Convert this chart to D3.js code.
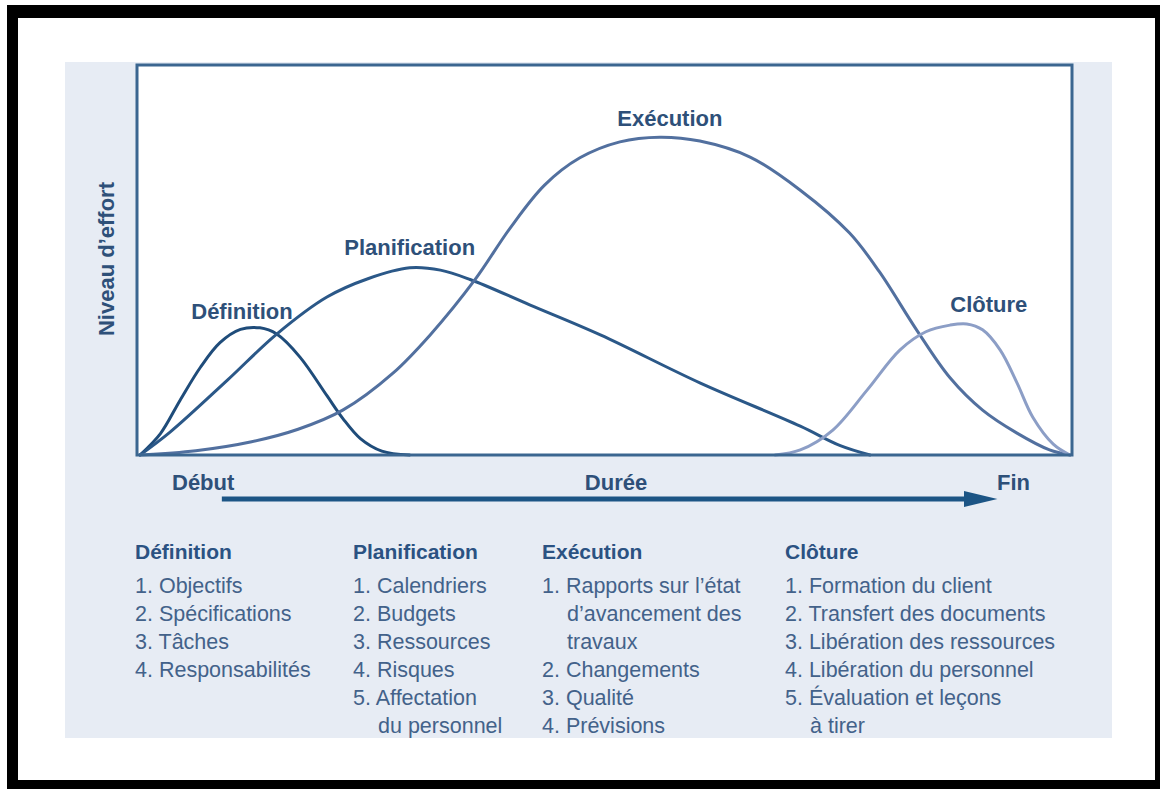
<!DOCTYPE html>
<html>
<head>
<meta charset="utf-8">
<script src="https://cdn.jsdelivr.net/npm/d3@7"></script>
<style>
  body { margin: 0; background: #fff; }
  text { font-family: "Liberation Sans", Arial, sans-serif; }
</style>
</head>
<body>
<div id="chart"></div>
<script>
// phase curves (x = % of duration, y = % of effort)
var phases = ["Définition", "Planification", "Exécution", "Clôture"];

var definition = [[0,0],[2.2,5.5],[4.3,14],[6.5,22.5],[8.6,28.8],[10.8,32.2],[12.9,32.6],[14.7,31],
  [17.2,25.1],[20.1,15.2],[21.8,9.4],[23.7,4.2],[26,1],[29,0]];

var planification = [[0,0],[3.2,5.8],[9.4,19.2],[14.7,31],[20.1,40.5],[24.5,45.2],[29,48],
  [32.3,47.4],[35.5,45],[41.9,38.5],[49.5,30.8],[60.2,18.5],[71,7.4],[75.3,2.4],[78.5,0]];

var execution = [[0,0],[6,1.1],[12,3.4],[17,6.6],[21.8,11.5],[27.2,21],[31.2,30.8],[36,44.9],
  [39.8,58.2],[43.5,69.2],[47.3,76.2],[51.6,80.3],[55.9,81.5],[60.2,80.5],[65.6,76.4],
  [71,67.9],[76.3,56.9],[79.5,47],[83.5,32.1],[87.1,19.8],[90.6,11.5],[94.3,5.6],[97.8,1.3],[100,0]];

var cloture = [[68.3,0],[71,1.3],[74.5,6.4],[78.2,16.7],[81.7,26.9],[84.5,31.6],[87.1,33.3],
  [88.9,33.6],[90.6,32.1],[92.5,26.9],[94.3,18.5],[96,9.7],[98.2,2.8],[100,0]];

var axisLabels = ["Début", "Durée", "Fin"];
var yLabel = "Niveau d’effort";

// task lists under the chart (each item = its lines)
var defItems = [["Objectifs"], ["Spécifications"], ["Tâches"], ["Responsabilités"]];
var planItems = [["Calendriers"], ["Budgets"], ["Ressources"], ["Risques"], ["Affectation", "du personnel"]];
var execItems = [["Rapports sur l’état", "d’avancement des", "travaux"], ["Changements"], ["Qualité"], ["Prévisions"]];
var clotItems = [["Formation du client"], ["Transfert des documents"], ["Libération des ressources"],
  ["Libération du personnel"], ["Évaluation et leçons", "à tirer"]];

var series = [definition, planification, execution, cloture];
var lists = [defItems, planItems, execItems, clotItems];

// styles
var curveColors = ["#1f4c7a", "#2b5888", "#52709f", "#8c9ec6"];
var labelDx = [-18, 0, 10, 22];
var labelDy = [-9, -13, -11, -12];
var colX = [135, 353, 542, 785];

var W = 1160, H = 789;
var svg = d3.select("#chart").append("svg")
    .attr("width", W)
    .attr("height", H);

// frame
svg.append("rect").attr("x", 7).attr("y", 5).attr("width", W - 7).attr("height", H - 5).attr("fill", "#000");
svg.append("rect").attr("x", 18).attr("y", 18).attr("width", 1137).attr("height", 762).attr("fill", "#fff");

// light panel
svg.append("rect").attr("x", 65).attr("y", 62).attr("width", 1047).attr("height", 676).attr("fill", "#e7ecf4");

var box = {left: 137, top: 65, right: 1072, bottom: 455};
svg.append("rect")
    .attr("x", box.left).attr("y", box.top)
    .attr("width", box.right - box.left).attr("height", box.bottom - box.top)
    .attr("fill", "#fff");

var xScale = d3.scaleLinear().domain([0, 100]).range([140, 1070]);
var yScale = d3.scaleLinear().domain([0, 100]).range([455, 65]);

var line = d3.line()
    .x(function(d) { return xScale(d[0]); })
    .y(function(d) { return yScale(d[1]); })
    .curve(d3.curveCatmullRom.alpha(0.5));

svg.selectAll(".phase")
    .data(series)
    .enter()
    .append("path")
    .attr("class", "phase")
    .attr("d", line)
    .attr("fill", "none")
    .attr("stroke", function(d, i) { return curveColors[i]; })
    .attr("stroke-width", 3)
    .attr("stroke-linecap", "round");

// box border on top
svg.append("rect")
    .attr("x", box.left).attr("y", box.top)
    .attr("width", box.right - box.left).attr("height", box.bottom - box.top)
    .attr("fill", "none")
    .attr("stroke", "#3b6690")
    .attr("stroke-width", 3);

// phase labels above each peak
svg.selectAll(".plabel")
    .data(series)
    .enter()
    .append("text")
    .attr("class", "plabel")
    .attr("x", function(d, i) {
      var p = d3.greatest(d, function(e) { return e[1]; });
      return xScale(p[0]) + labelDx[i];
    })
    .attr("y", function(d, i) {
      var p = d3.greatest(d, function(e) { return e[1]; });
      return yScale(p[1]) + labelDy[i];
    })
    .attr("text-anchor", "middle")
    .attr("font-size", 22)
    .attr("font-weight", "bold")
    .attr("fill", "#2e5079")
    .text(function(d, i) { return phases[i]; });

// y label
svg.append("text")
    .attr("transform", "translate(114,259) rotate(-90)")
    .attr("text-anchor", "middle")
    .attr("font-size", 22)
    .attr("font-weight", "bold")
    .attr("fill", "#2e5079")
    .text(yLabel);

// duration arrow
var arrowY = 499;
svg.append("line")
    .attr("x1", xScale(8.8)).attr("x2", xScale(89))
    .attr("y1", arrowY).attr("y2", arrowY)
    .attr("stroke", "#1c5585")
    .attr("stroke-width", 5);
svg.append("path")
    .attr("d", "M" + xScale(88.6) + "," + (arrowY - 8) + "L" + xScale(92.2) + "," + arrowY + "L" + xScale(88.6) + "," + (arrowY + 8) + "Z")
    .attr("fill", "#1c5585");

svg.append("text").attr("x", 172).attr("y", 490).attr("font-size", 22).attr("font-weight", "bold")
    .attr("fill", "#2e5079").text(axisLabels[0]);
svg.append("text").attr("x", 616).attr("y", 490).attr("text-anchor", "middle").attr("font-size", 22)
    .attr("font-weight", "bold").attr("fill", "#2e5079").text(axisLabels[1]);
svg.append("text").attr("x", 997).attr("y", 490).attr("font-size", 22).attr("font-weight", "bold")
    .attr("fill", "#2e5079").text(axisLabels[2]);

// task columns
var rowH = 28;
lists.forEach(function(items, c) {
  var g = svg.append("g").attr("transform", "translate(" + colX[c] + ",0)");
  g.append("text")
    .attr("x", 0).attr("y", 559)
    .attr("font-size", 21)
    .attr("font-weight", "bold")
    .attr("fill", "#2b5282")
    .text(phases[c]);
  var row = 0;
  items.forEach(function(lines, k) {
    lines.forEach(function(t, j) {
      g.append("text")
        .attr("x", j === 0 ? 0 : 25)
        .attr("y", 593 + row * rowH)
        .attr("font-size", 21.5)
        .attr("fill", "#43628a")
        .text(j === 0 ? (k + 1) + ". " + t : t);
      row++;
    });
  });
});
</script>
</body>
</html>
